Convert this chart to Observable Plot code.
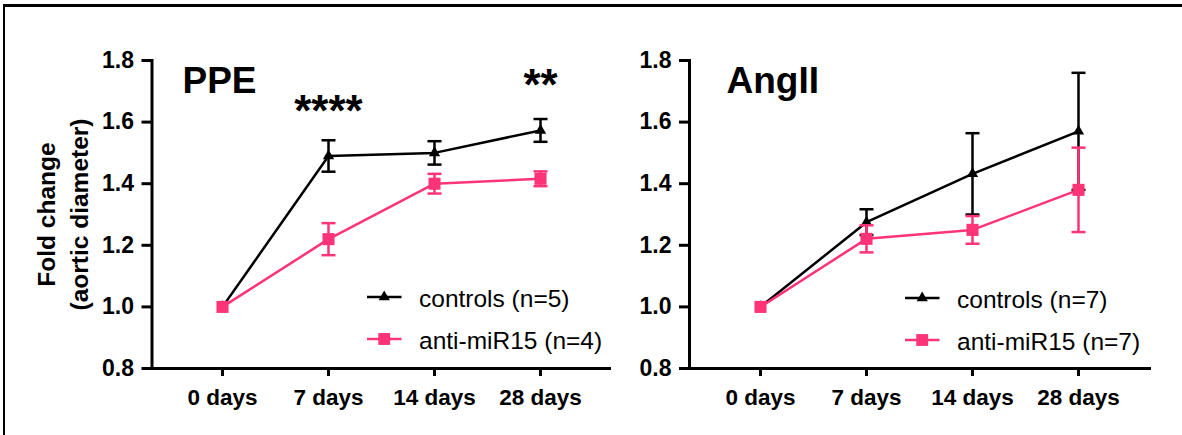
<!DOCTYPE html>
<html>
<head>
<meta charset="utf-8">
<script src="https://cdn.jsdelivr.net/npm/d3@7"></script>
<script src="https://cdn.jsdelivr.net/npm/@observablehq/plot@0.6"></script>
<style>
  html, body { margin: 0; padding: 0; background: #fff; }
  #wrap { position: relative; width: 1182px; height: 435px; overflow: hidden; font-family: "Liberation Sans", Arial, sans-serif; }
  .panel { position: absolute; top: 0; }
  .legend { position: absolute; }
  #border { position: absolute; left: 3px; top: 4px; width: 1179px; height: 431px; border-top: 3px solid #000; border-left: 2.5px solid #000; pointer-events: none; }
</style>
</head>
<body>
<div id="wrap">
  <div id="left" class="panel" style="left:0px"></div>
  <div id="right" class="panel" style="left:610px"></div>
  <div id="border"></div>
</div>
<script>
// ---- data ----
const days = ["0 days", "7 days", "14 days", "28 days"];
const yTicks = [0.8, 1.0, 1.2, 1.4, 1.6, 1.8];
const series = ["controls", "anti-miR15"];
const seriesColors = ["#000000", "#ff3377"];
const panelTitles = ["PPE", "AngII"];
const yLabel = "Fold change\n(aortic diameter)";

// PPE panel
const ppeControlsMean = [1.0, 1.49, 1.50, 1.573];
const ppeControlsErr  = [0, 0.051, 0.038, 0.037];
const ppeAntiMean     = [1.0, 1.22, 1.40, 1.416];
const ppeAntiErr      = [0, 0.052, 0.032, 0.024];
const ppeLegend       = ["controls (n=5)", "anti-miR15 (n=4)"];
const ppeStarDays     = ["7 days", "28 days"];
const ppeStarY        = [1.633, 1.717];
const ppeStarLabels   = ["****", "**"];

// AngII panel
const angControlsMean = [1.0, 1.275, 1.432, 1.57];
const angControlsErr  = [0, 0.042, 0.132, 0.19];
const angAntiMean     = [1.0, 1.221, 1.25, 1.38];
const angAntiErr      = [0, 0.044, 0.045, 0.137];
const angLegend       = ["controls (n=7)", "anti-miR15 (n=7)"];

const FONT = "Liberation Sans, Arial, Helvetica, sans-serif";

// horizontal error-bar cap symbol
const capSymbol = {draw(context) { context.moveTo(-7, 0); context.lineTo(7, 0); }};

function buildRows(cMean, cErr, aMean, aErr) {
  const rows = [];
  days.forEach((d, i) => {
    rows.push({day: d, series: series[0], mean: cMean[i], err: cErr[i]});
    rows.push({day: d, series: series[1], mean: aMean[i], err: aErr[i]});
  });
  return rows;
}

function panel(opts) {
  const rows = buildRows(opts.cMean, opts.cErr, opts.aMean, opts.aErr);
  const marks = [
    Plot.frame({anchor: "left", strokeWidth: 3}),
    Plot.frame({anchor: "bottom", strokeWidth: 3}),
    Plot.axisY({ticks: yTicks, tickSize: 10, tickPadding: 8, strokeWidth: 3,
      fontSize: 23, fontWeight: "bold", tickFormat: d3.format(".1f"), label: null}),
    Plot.axisX({tickSize: 8, tickPadding: 13, strokeWidth: 3,
      fontSize: 22.5, fontWeight: "bold", label: null}),
    Plot.text([opts.title], {frameAnchor: "top-left", dx: opts.titleDx, dy: 6,
      fontSize: 37, fontWeight: "bold", textAnchor: "start", lineAnchor: "top"})
  ];
  if (opts.yLabel) {
    marks.push(Plot.text([opts.yLabel], {frameAnchor: "left", dx: -91, rotate: -90,
      fontSize: 24.5, fontWeight: "bold", lineHeight: 1.33, textAnchor: "middle", lineAnchor: "middle"}));
  }
  series.forEach((s, k) => {
    const data = rows.filter(r => r.series === s);
    const bars = data.filter(r => r.err > 0);
    const caps = bars.flatMap(r => [{day: r.day, v: r.mean - r.err}, {day: r.day, v: r.mean + r.err}]);
    const color = seriesColors[k];
    marks.push(
      Plot.line(data, {x: "day", y: "mean", stroke: color, strokeWidth: 2.5}),
      Plot.ruleX(bars, {x: "day", y1: r => r.mean - r.err, y2: r => r.mean + r.err, stroke: color, strokeWidth: 2.5}),
      Plot.dot(caps, {x: "day", y: "v", stroke: color, fill: "none", strokeWidth: 2.5, symbol: capSymbol, r: 5}),
      Plot.dot(data, {x: "day", y: "mean", fill: color, stroke: "none",
        symbol: k === 0 ? "triangle" : "square", r: k === 0 ? 4.2 : 6.8})
    );
  });
  if (opts.starDays) {
    const idx = opts.starDays.map((_, i) => i);
    marks.push(Plot.text(idx, {x: i => opts.starDays[i], y: i => opts.starY[i], text: i => opts.starLabels[i],
      fontSize: 44, fontWeight: "bold", lineAnchor: "middle", textAnchor: "middle"}));
  }
  return Plot.plot({
    width: opts.width, height: 435,
    marginTop: 60, marginBottom: 67, marginLeft: opts.marginLeft, marginRight: opts.marginRight,
    style: {background: "transparent", fontFamily: FONT, color: "#000", overflow: "visible"},
    x: {type: "point", domain: days, range: opts.range, padding: 0},
    y: {domain: [0.8, 1.8]},
    marks
  });
}

function legend(container, left, top, labels) {
  const svg = d3.select(container).append("svg")
    .attr("class", "legend")
    .style("left", left + "px").style("top", top + "px")
    .style("overflow", "visible")
    .attr("width", 260).attr("height", 80);
  const rowsY = [17, 59];
  labels.forEach((lab, k) => {
    const g = svg.append("g").attr("transform", `translate(0,${rowsY[k]})`);
    g.append("line").attr("x1", 0).attr("x2", 34.5).attr("stroke", seriesColors[k]).attr("stroke-width", 2.5);
    g.append("path").attr("transform", "translate(17.2,0)")
      .attr("d", d3.symbol(k === 0 ? d3.symbolTriangle : d3.symbolSquare, k === 0 ? 55 : 140)())
      .attr("fill", seriesColors[k]);
    g.append("text").attr("x", 52).attr("y", 9.5).text(lab)
      .attr("font-family", FONT).attr("font-size", 24.5).attr("fill", "#000");
  });
}

document.getElementById("left").append(panel({
  width: 610, marginLeft: 151.5, marginRight: 1, range: [221, 540.5],
  title: panelTitles[0], titleDx: 30.5, yLabel: yLabel,
  cMean: ppeControlsMean, cErr: ppeControlsErr, aMean: ppeAntiMean, aErr: ppeAntiErr,
  starDays: ppeStarDays, starY: ppeStarY, starLabels: ppeStarLabels
}));
document.getElementById("right").append(panel({
  width: 572, marginLeft: 79, marginRight: 33, range: [150, 468],
  title: panelTitles[1], titleDx: 37,
  cMean: angControlsMean, cErr: angControlsErr, aMean: angAntiMean, aErr: angAntiErr
}));
legend(document.getElementById("wrap"), 366.5, 280, ppeLegend);
legend(document.getElementById("wrap"), 904.5, 281, angLegend);
</script>
</body>
</html>
